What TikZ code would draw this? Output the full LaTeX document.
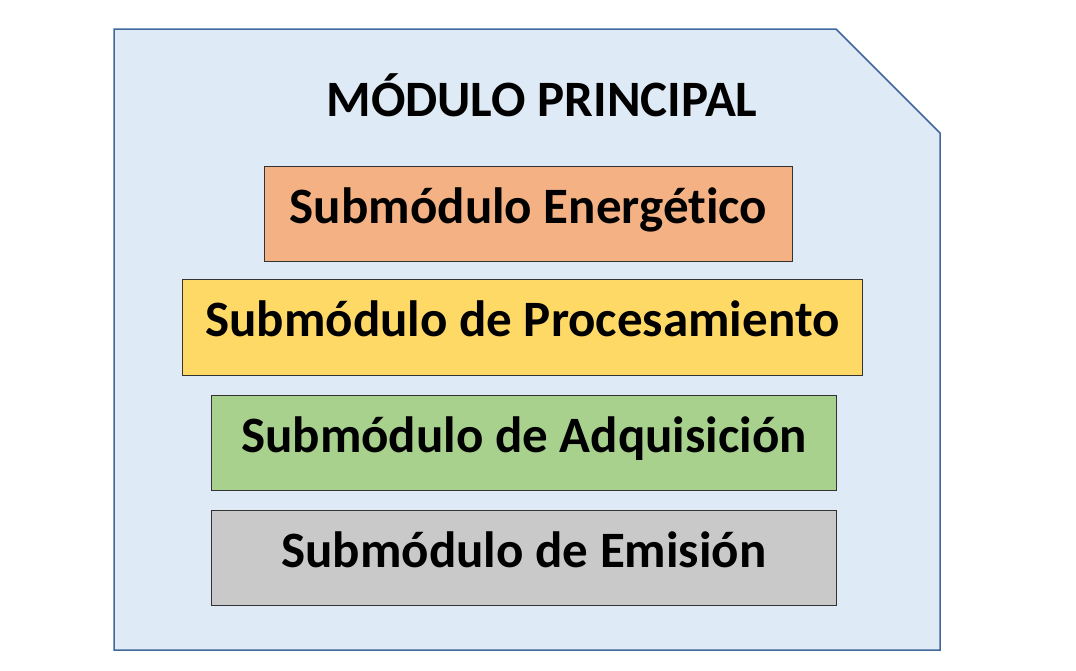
\documentclass[tikz,border=0pt]{standalone}
\usepackage{fontspec}
\setmainfont[Ligatures={NoCommon}]{Carlito}
\definecolor{outerfill}{HTML}{DEEAF6}
\definecolor{outerdraw}{HTML}{41689C}
\definecolor{energ}{HTML}{F4B183}
\definecolor{proc}{HTML}{FFD966}
\definecolor{adq}{HTML}{A9D18E}
\definecolor{emis}{HTML}{C9C9C9}
\begin{document}
\begin{tikzpicture}[x=1pt,y=-1pt,
  subbox/.style={draw=black!80, line width=0.8pt, inner sep=0pt, anchor=north west},
  titletext/.style={font=\fontsize{51}{51}\selectfont\bfseries, text=black, anchor=base, inner sep=0pt}]
\useasboundingbox (0,0) rectangle (1076,670);
\draw[fill=outerfill, draw=outerdraw, line width=1.5pt]
  (114,29) -- (836,29) -- (940,133) -- (940,650) -- (114,650) -- cycle;
\node[titletext] (title) at (542,116) {MÓDULO PRINCIPAL};
\node[subbox, fill=energ, minimum width=528pt, minimum height=95pt] (e) at (264,166) {};
\node[titletext] (et) at ([yshift=-57pt]e.north) {Submódulo Energético};
\node[subbox, fill=proc, minimum width=680pt, minimum height=96pt] (p) at (182,279) {};
\node[titletext] (pt) at ([yshift=-57pt]p.north) {Submódulo de Procesamiento};
\node[subbox, fill=adq, minimum width=625pt, minimum height=95pt] (a) at (211,395) {};
\node[titletext] (at) at ([yshift=-57pt]a.north) {Submódulo de Adquisición};
\node[subbox, fill=emis, minimum width=625pt, minimum height=95pt] (m) at (211,510) {};
\node[titletext] (mt) at ([yshift=-57pt]m.north) {Submódulo de Emisión};
\end{tikzpicture}
\end{document}
